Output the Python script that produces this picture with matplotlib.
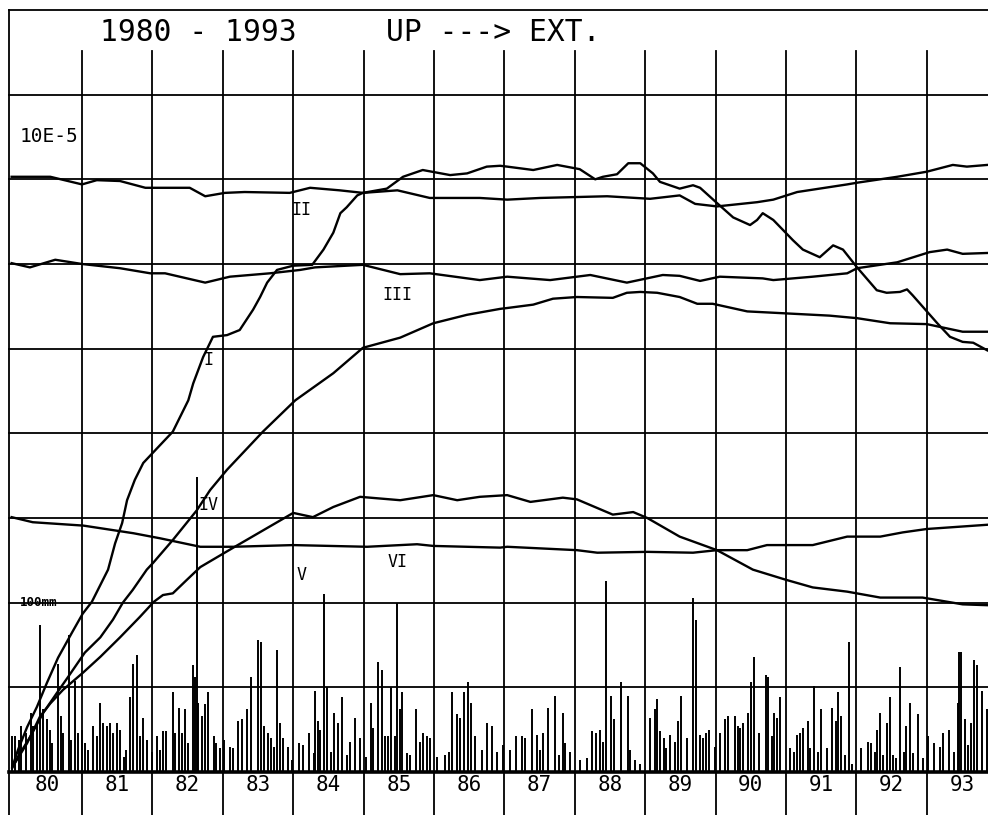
import matplotlib
matplotlib.use("Agg")
import matplotlib.pyplot as plt

# Curve I
i_year = [1980.01, 1980.09, 1980.22, 1980.36, 1980.50, 1980.66, 1980.86, 1981.01, 1981.14, 1981.37,
          1981.47, 1981.57, 1981.64, 1981.75, 1981.87, 1982.04, 1982.29, 1982.51, 1982.58, 1982.72,
          1982.86, 1983.06, 1983.24, 1983.43, 1983.53, 1983.63, 1983.77, 1984.00, 1984.27, 1984.43,
          1984.57, 1984.67, 1984.76, 1984.91, 1984.99, 1985.33, 1985.56, 1985.84, 1986.23, 1986.47,
          1986.75, 1986.94, 1987.04, 1987.41, 1987.75, 1988.07, 1988.29, 1988.40, 1988.60, 1988.76,
          1988.93, 1989.11, 1989.21, 1989.49, 1989.68, 1989.78, 1990.02, 1990.25, 1990.49, 1990.59,
          1990.67, 1990.82, 1991.10, 1991.24, 1991.48, 1991.67, 1991.81, 1992.01, 1992.29, 1992.43,
          1992.62, 1992.72, 1992.80, 1993.15, 1993.33, 1993.51, 1993.66, 1993.86]
i_val = [0.06, 0.26, 0.53, 0.77, 1.05, 1.35, 1.65, 1.87, 2.01, 2.39,
         2.70, 2.94, 3.21, 3.45, 3.65, 3.80, 4.02, 4.39, 4.59, 4.90,
         5.14, 5.16, 5.22, 5.46, 5.61, 5.78, 5.93, 5.98, 5.99, 6.17,
         6.37, 6.60, 6.67, 6.81, 6.84, 6.89, 7.03, 7.11, 7.05, 7.07,
         7.15, 7.16, 7.15, 7.11, 7.17, 7.12, 7.00, 7.03, 7.06, 7.19,
         7.19, 7.07, 6.97, 6.89, 6.93, 6.90, 6.72, 6.55, 6.46, 6.52,
         6.60, 6.52, 6.28, 6.17, 6.08, 6.22, 6.17, 5.96, 5.69, 5.66,
         5.67, 5.70, 5.63, 5.30, 5.14, 5.08, 5.07, 4.98]

# Curve II
ii_year = [1980.00, 1980.55, 1981.00, 1981.21, 1981.54, 1981.90, 1982.53, 1982.75, 1983.03, 1983.31,
           1983.95, 1984.24, 1984.66, 1984.99, 1985.48, 1985.94, 1986.65, 1987.04, 1987.51, 1988.46,
           1989.07, 1989.49, 1989.71, 1990.02, 1990.59, 1990.82, 1991.16, 1991.87, 1992.01, 1992.58,
           1993.00, 1993.37, 1993.57, 1993.86]
ii_val = [7.03, 7.03, 6.94, 6.99, 6.98, 6.90, 6.90, 6.80, 6.84, 6.85,
          6.84, 6.90, 6.87, 6.84, 6.87, 6.78, 6.78, 6.76, 6.78, 6.80,
          6.77, 6.81, 6.71, 6.68, 6.73, 6.76, 6.85, 6.94, 6.96, 7.03,
          7.09, 7.17, 7.15, 7.17]

# Curve III
iii_year = [1980.00, 1980.26, 1980.62, 1981.00, 1981.54, 1981.97, 1982.18, 1982.75, 1983.10, 1983.67,
            1984.10, 1984.31, 1984.99, 1985.52, 1985.94, 1986.65, 1987.04, 1987.65, 1988.22, 1988.74,
            1989.25, 1989.49, 1989.78, 1990.06, 1990.67, 1990.82, 1991.38, 1991.87, 1992.01, 1992.58,
            1993.04, 1993.29, 1993.51, 1993.86]
iii_val = [6.01, 5.96, 6.05, 6.00, 5.95, 5.89, 5.89, 5.78, 5.85, 5.89,
           5.93, 5.96, 5.99, 5.88, 5.89, 5.81, 5.85, 5.81, 5.87, 5.78,
           5.87, 5.86, 5.80, 5.85, 5.83, 5.81, 5.85, 5.89, 5.95, 6.02,
           6.14, 6.17, 6.12, 6.13]

# Curve IV
iv_year = [1980.01, 1980.09, 1980.26, 1980.45, 1980.64, 1980.80, 1981.04, 1981.26, 1981.44, 1981.58,
           1981.72, 1981.92, 1982.01, 1982.29, 1982.63, 1982.82, 1983.06, 1983.57, 1984.03, 1984.57,
           1984.99, 1985.52, 1985.99, 1986.47, 1986.94, 1987.04, 1987.41, 1987.69, 1988.03, 1988.54,
           1988.74, 1988.93, 1989.17, 1989.49, 1989.74, 1989.96, 1990.45, 1990.92, 1991.62, 1992.01,
           1992.48, 1993.00, 1993.51, 1993.86]
iv_val = [0.05, 0.18, 0.41, 0.70, 0.93, 1.12, 1.41, 1.59, 1.80, 2.00,
          2.15, 2.39, 2.47, 2.74, 3.09, 3.33, 3.57, 4.02, 4.39, 4.71,
          5.01, 5.13, 5.30, 5.40, 5.47, 5.48, 5.52, 5.59, 5.61, 5.60,
          5.66, 5.67, 5.66, 5.61, 5.53, 5.53, 5.44, 5.42, 5.39, 5.36,
          5.30, 5.29, 5.20, 5.20]

# Curve V
v_year = [1980.05, 1980.22, 1980.40, 1980.55, 1980.73, 1981.01, 1981.26, 1981.54, 1981.82, 1982.02,
          1982.15, 1982.29, 1982.49, 1982.68, 1983.15, 1984.00, 1984.28, 1984.57, 1984.95, 1985.52,
          1985.99, 1986.33, 1986.65, 1987.04, 1987.37, 1987.83, 1988.03, 1988.54, 1988.83, 1989.03,
          1989.49, 1990.02, 1990.53, 1991.00, 1991.38, 1991.87, 1992.34, 1992.80, 1992.94, 1993.51,
          1993.86]
v_val = [0.11, 0.34, 0.65, 0.81, 0.97, 1.17, 1.36, 1.59, 1.83, 2.01,
         2.09, 2.11, 2.27, 2.42, 2.65, 3.06, 3.01, 3.13, 3.25, 3.21,
         3.27, 3.21, 3.25, 3.27, 3.19, 3.24, 3.22, 3.04, 3.07, 3.00,
         2.78, 2.62, 2.39, 2.27, 2.18, 2.13, 2.06, 2.06, 2.06, 1.98,
         1.97]

# Curve VI
vi_year = [1980.00, 1980.30, 1981.02, 1981.73, 1982.11, 1982.68, 1983.15, 1984.00, 1985.05, 1985.76,
           1985.99, 1986.94, 1987.04, 1988.03, 1988.32, 1989.03, 1989.68, 1990.02, 1990.45, 1990.73,
           1991.38, 1991.87, 1992.34, 1992.66, 1993.00, 1993.86]
vi_val = [3.01, 2.95, 2.91, 2.82, 2.76, 2.66, 2.66, 2.68, 2.66, 2.69,
          2.67, 2.65, 2.66, 2.62, 2.59, 2.60, 2.59, 2.62, 2.62, 2.68,
          2.68, 2.78, 2.78, 2.83, 2.87, 2.92]

# Precipitation bars (date as decimal year, amount in mm; 100 mm = 2 grid units)
rain_year = [1980.00, 1980.05, 1980.10, 1980.14, 1980.21, 1980.27, 1980.31, 1980.36, 1980.41, 1980.45,
             1980.50, 1980.55, 1980.58, 1980.66, 1980.70, 1980.73, 1980.82, 1980.85, 1980.90, 1980.95,
             1981.00, 1981.04, 1981.09, 1981.16, 1981.21, 1981.26, 1981.30, 1981.35, 1981.40, 1981.44,
             1981.49, 1981.54, 1981.59, 1981.63, 1981.68, 1981.73, 1981.78, 1981.82, 1981.87, 1981.92,
             1981.99, 1982.06, 1982.11, 1982.15, 1982.20, 1982.29, 1982.32, 1982.38, 1982.42, 1982.46,
             1982.51, 1982.57, 1982.61, 1982.63, 1982.65, 1982.70, 1982.75, 1982.79, 1982.87, 1982.91,
             1982.96, 1983.01, 1983.10, 1983.15, 1983.22, 1983.27, 1983.34, 1983.40, 1983.50, 1983.54,
             1983.58, 1983.64, 1983.68, 1983.73, 1983.77, 1983.81, 1983.86, 1983.92, 1983.98, 1984.08,
             1984.14, 1984.22, 1984.29, 1984.31, 1984.35, 1984.38, 1984.44, 1984.48, 1984.54, 1984.58,
             1984.63, 1984.70, 1984.76, 1984.81, 1984.88, 1984.95, 1985.04, 1985.11, 1985.14, 1985.21,
             1985.26, 1985.30, 1985.34, 1985.39, 1985.44, 1985.48, 1985.52, 1985.55, 1985.61, 1985.66,
             1985.74, 1985.80, 1985.85, 1985.90, 1985.94, 1986.04, 1986.16, 1986.21, 1986.25, 1986.32,
             1986.37, 1986.42, 1986.49, 1986.53, 1986.58, 1986.68, 1986.75, 1986.82, 1986.89, 1986.98,
             1987.08, 1987.16, 1987.25, 1987.29, 1987.39, 1987.46, 1987.51, 1987.55, 1987.62, 1987.72,
             1987.77, 1987.83, 1987.86, 1987.93, 1988.07, 1988.17, 1988.24, 1988.30, 1988.36, 1988.40,
             1988.44, 1988.51, 1988.56, 1988.65, 1988.75, 1988.78, 1988.86, 1988.92, 1989.07, 1989.14,
             1989.17, 1989.21, 1989.27, 1989.30, 1989.35, 1989.42, 1989.47, 1989.51, 1989.59, 1989.68,
             1989.72, 1989.78, 1989.82, 1989.87, 1989.91, 1989.99, 1990.06, 1990.13, 1990.18, 1990.28,
             1990.32, 1990.35, 1990.39, 1990.46, 1990.50, 1990.54, 1990.62, 1990.71, 1990.75, 1990.80,
             1990.83, 1990.87, 1990.91, 1991.06, 1991.12, 1991.15, 1991.20, 1991.24, 1991.31, 1991.34,
             1991.40, 1991.46, 1991.50, 1991.58, 1991.65, 1991.71, 1991.74, 1991.78, 1991.84, 1991.89,
             1991.94, 1992.07, 1992.17, 1992.21, 1992.26, 1992.30, 1992.34, 1992.38, 1992.43, 1992.48,
             1992.52, 1992.57, 1992.62, 1992.67, 1992.71, 1992.76, 1992.81, 1992.88, 1992.95, 1993.02,
             1993.11, 1993.19, 1993.23, 1993.32, 1993.38, 1993.44, 1993.46, 1993.49, 1993.54, 1993.59,
             1993.63, 1993.67, 1993.72, 1993.78, 1993.85]
rain_mm = [21, 21, 19, 27, 23, 35, 27, 29, 87, 37,
           31, 25, 17, 64, 33, 23, 81, 19, 54, 23,
           25, 17, 13, 27, 21, 41, 29, 27, 29, 23,
           29, 25, 9, 13, 44, 64, 69, 21, 32, 19,
           12, 21, 13, 24, 24, 47, 23, 38, 23, 37,
           17, 63, 56, 174, 41, 33, 40, 47, 21, 17,
           14, 19, 15, 14, 30, 31, 37, 56, 78, 77,
           27, 23, 20, 15, 72, 29, 20, 15, 7, 17,
           16, 23, 11, 48, 30, 25, 105, 50, 12, 35,
           29, 44, 10, 18, 32, 20, 9, 41, 26, 65,
           60, 21, 21, 50, 21, 100, 37, 47, 11, 10,
           37, 18, 23, 21, 20, 9, 10, 12, 47, 34,
           32, 47, 53, 41, 21, 13, 29, 27, 12, 16,
           13, 21, 21, 20, 37, 22, 13, 23, 38, 45,
           10, 35, 17, 12, 7, 8, 24, 23, 25, 18,
           113, 45, 31, 53, 45, 13, 7, 5, 32, 37,
           43, 24, 20, 14, 22, 18, 30, 45, 20, 103,
           90, 22, 20, 23, 25, 15, 23, 31, 33, 33,
           27, 26, 29, 35, 53, 68, 23, 57, 56, 21,
           35, 32, 44, 14, 12, 22, 23, 26, 30, 14,
           51, 12, 37, 14, 38, 30, 47, 33, 10, 77,
           5, 14, 18, 17, 12, 25, 35, 10, 29, 44,
           10, 8, 62, 12, 27, 41, 11, 34, 8, 21,
           17, 15, 23, 25, 12, 41, 71, 71, 31, 16,
           29, 66, 63, 48, 37]

year_labels = ["80", "81", "82", "83", "84", "85", "86", "87", "88", "89", "90", "91", "92", "93"]

MM_PER_UNIT = 50.0  # one grid row = 50 mm

fig = plt.figure(figsize=(9.88, 8.15), dpi=100)
ax = fig.add_axes([0, 0, 1, 1])
ax.set_xlim(1979.835, 1993.87)
ax.set_ylim(-0.508, 9.118)
ax.axis("off")

grid_kw = dict(color="black", lw=1.3, zorder=1)
left = 1979.96
# frame and grid
ax.plot([left, left], [-0.508, 9.0], **grid_kw)
ax.plot([left, 1994], [9.0, 9.0], **grid_kw)
for k in range(1, 9):
    ax.plot([left, 1994], [k, k], **grid_kw)
ax.plot([left, 1994], [0, 0], color="black", lw=2.6, zorder=2)  # heavy baseline
for yr in range(1981, 1994):
    ax.plot([yr, yr], [-0.508, 8.515], **grid_kw)

# rain bars
ax.vlines(rain_year, 0, [m / MM_PER_UNIT for m in rain_mm], color="black", lw=1.4, zorder=2)

# curves
for xs, ys in [(i_year, i_val), (ii_year, ii_val), (iii_year, iii_val),
               (iv_year, iv_val), (v_year, v_val), (vi_year, vi_val)]:
    ax.plot(xs, ys, color="black", lw=1.7, zorder=3)

mono = "DejaVu Sans Mono"
ax.text(1981.257, 8.73, "1980 - 1993     UP ---> EXT.", family=mono, fontsize=21.3,
        ha="left", va="center")
ax.text(1980.12, 7.5, "10E-5", family=mono, fontsize=14, ha="left", va="center")
ax.text(1980.12, 2.0, "100mm", family=mono, fontsize=9, fontweight="bold",
        ha="left", va="center")

# curve names
for name, x, y in [("II", 1984.12, 6.64), ("III", 1985.48, 5.63), ("I", 1982.79, 4.87),
                   ("IV", 1982.79, 3.15), ("V", 1984.12, 2.33), ("VI", 1985.48, 2.48)]:
    ax.text(x, y, name, family=mono, fontsize=12, ha="center", va="center")

# year labels under the baseline
for k, lab in enumerate(year_labels):
    ax.text(1980.5 + k, -0.155, lab, family=mono, fontsize=15, ha="center", va="center")

plt.savefig("out.png", dpi=100)
